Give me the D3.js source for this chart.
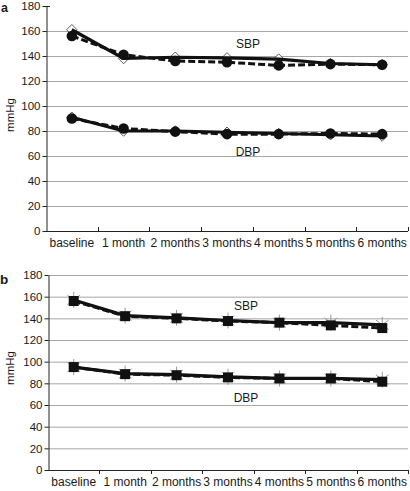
<!DOCTYPE html>
<html><head><meta charset="utf-8">
<script src="https://cdn.jsdelivr.net/npm/d3@7"></script>
<style>body{margin:0;background:#fff}svg{display:block}text{font-family:"Liberation Sans",Arial,sans-serif;fill:#1a1a1a}</style>
</head><body>
<script>
const months = ["baseline","1 month","2 months","3 months","4 months","5 months","6 months"];
const yTicks = [0,20,40,60,80,100,120,140,160,180];
// Panel a
const aSbpSolid  = [161, 138, 139, 138.5, 137.5, 134, 133];
const aSbpDashed = [156, 141, 136, 135, 132.5, 133.5, 133];
const aDbpSolid  = [91, 80, 80, 79, 78, 77, 76];
const aDbpDashed = [90, 82, 79.5, 77.5, 77.5, 78, 77.5];
// Panel b
const bSbpSolid  = [157, 142.5, 140.5, 138, 136, 136, 134];
const bSbpDashed = [156, 142, 140, 137.5, 136, 133.5, 131];
const bDbpSolid  = [95, 89, 88, 86, 84.5, 84.5, 83.5];
const bDbpDashed = [95, 88.5, 87.5, 85.5, 84.5, 84.5, 81.5];

const svg = d3.select("body").append("svg").attr("width",410).attr("height",491);

function panel(cfg){
  const x = d3.scaleBand().domain(months).range([cfg.x0, cfg.x1]).padding(0);
  const y = d3.scaleLinear().domain([0,180]).range([cfg.yb, cfg.yt]);
  const g = svg.append("g");
  g.selectAll("line.grid").data(yTicks.filter(t => t>0 && (cfg.topGrid || t<180))).enter()
    .append("line").attr("x1",cfg.x0).attr("x2",cfg.x1)
    .attr("y1",d=>y(d)+0.5).attr("y2",d=>y(d)+0.5)
    .attr("stroke","#a6a6a6").attr("stroke-width",1);
  if(!cfg.topGrid){
    g.append("line").attr("x1",cfg.x0).attr("x2",cfg.x0+4).attr("y1",y(180)+0.5).attr("y2",y(180)+0.5).attr("stroke","#222");
  }
  const ya = d3.axisLeft(y).tickValues(yTicks).tickSize(4).tickSizeOuter(0);
  const yg = g.append("g").attr("transform",`translate(${cfg.x0+0.5},0)`).call(ya);
  yg.select(".domain").attr("stroke","#222");
  yg.selectAll(".tick line").attr("stroke","#222");
  yg.selectAll(".tick text").attr("font-size",11.5).attr("x",-6).attr("dy","0.34em").style("font-family","Liberation Sans, Arial");
  const xb = g.append("g");
  xb.append("line").attr("x1",cfg.x0).attr("x2",cfg.x1).attr("y1",cfg.yb+0.5).attr("y2",cfg.yb+0.5).attr("stroke","#222");
  const bounds = months.map(m=>x(m)).slice(1).concat([cfg.x1]);
  xb.selectAll("line.tk").data(bounds).enter().append("line")
    .attr("x1",d=>Math.round(d)+0.5).attr("x2",d=>Math.round(d)+0.5)
    .attr("y1",cfg.yb).attr("y2",cfg.yb+cfg.tickDir*4).attr("stroke","#222");
  xb.selectAll("text").data(months).enter().append("text")
    .attr("x",d=>x(d)+x.bandwidth()/2).attr("y",cfg.yb+16)
    .attr("text-anchor","middle").attr("font-size",12).text(d=>d);
  const cx = (d,i)=>x(months[i])+x.bandwidth()/2;
  const line = d3.line().x((d,i)=>cx(d,i)).y(d=>y(d));
  return {g,x,y,cx,line};
}

function drawDiamonds(P, data){
  P.g.append("g").selectAll("path").data(data).enter().append("path")
    .attr("d", d3.symbol().type(d3.symbolDiamond2).size(70))
    .attr("transform",(d,i)=>`translate(${P.cx(d,i)},${P.y(d)})`)
    .attr("fill","#fff").attr("stroke","#333").attr("stroke-width",0.8);
}
function drawCircles(P, data){
  P.g.append("g").selectAll("circle").data(data).enter().append("circle")
    .attr("cx",(d,i)=>P.cx(d,i)).attr("cy",d=>P.y(d)).attr("r",5.3).attr("fill","#111");
}
function drawStars(P, data){
  const s = 8;
  P.g.append("g").selectAll("path").data(data).enter().append("path")
    .attr("d", `M0,${-s}L0,${s}M${-s*0.8},${-s*0.6}L${s*0.8},${s*0.6}M${-s*0.8},${s*0.6}L${s*0.8},${-s*0.6}`)
    .attr("transform",(d,i)=>`translate(${P.cx(d,i)},${P.y(d)})`)
    .attr("stroke","#999").attr("stroke-width",1).attr("fill","none");
}
function drawSquares(P, data){
  P.g.append("g").selectAll("rect").data(data).enter().append("rect")
    .attr("x",(d,i)=>P.cx(d,i)-5).attr("y",d=>P.y(d)-5).attr("width",10).attr("height",10).attr("fill","#111");
}
function drawLine(P, data, dashed){
  P.g.append("path").datum(data).attr("d",P.line).attr("fill","none")
    .attr("stroke","#111").attr("stroke-width",dashed?3:3.2)
    .attr("stroke-dasharray",dashed?"7,3":null);
}

const A = panel({x0:46, x1:408, yb:231, yt:6, topGrid:false, tickDir:-1});
drawDiamonds(A, aSbpSolid); drawDiamonds(A, aDbpSolid);
drawLine(A, aSbpSolid, false); drawLine(A, aDbpSolid, false);
drawLine(A, aSbpDashed, true); drawLine(A, aDbpDashed, true);
drawCircles(A, aSbpDashed); drawCircles(A, aDbpDashed);
A.g.append("text").attr("x",248).attr("y",48).attr("text-anchor","middle").attr("font-size",12).text("SBP");
A.g.append("text").attr("x",248).attr("y",156).attr("text-anchor","middle").attr("font-size",12).text("DBP");

const B = panel({x0:48, x1:408, yb:470, yt:275, topGrid:true, tickDir:1});
drawStars(B, bSbpSolid); drawStars(B, bDbpSolid);
drawLine(B, bSbpSolid, false); drawLine(B, bDbpSolid, false);
drawLine(B, bSbpDashed, true); drawLine(B, bDbpDashed, true);
drawSquares(B, bSbpDashed); drawSquares(B, bDbpDashed);
B.g.append("text").attr("x",246).attr("y",310).attr("text-anchor","middle").attr("font-size",12).text("SBP");
B.g.append("text").attr("x",246).attr("y",402).attr("text-anchor","middle").attr("font-size",12).text("DBP");

svg.append("text").attr("x",1).attr("y",12).attr("font-size",12.5).attr("font-weight","bold").text("a");
svg.append("text").attr("x",0).attr("y",284).attr("font-size",13.5).attr("font-weight","bold").text("b");
svg.append("text").attr("transform","translate(14,115) rotate(-90)").attr("text-anchor","middle").attr("font-size",11.5).text("mmHg");
svg.append("text").attr("transform","translate(14,368) rotate(-90)").attr("text-anchor","middle").attr("font-size",11.5).text("mmHg");
</script>
</body></html>
